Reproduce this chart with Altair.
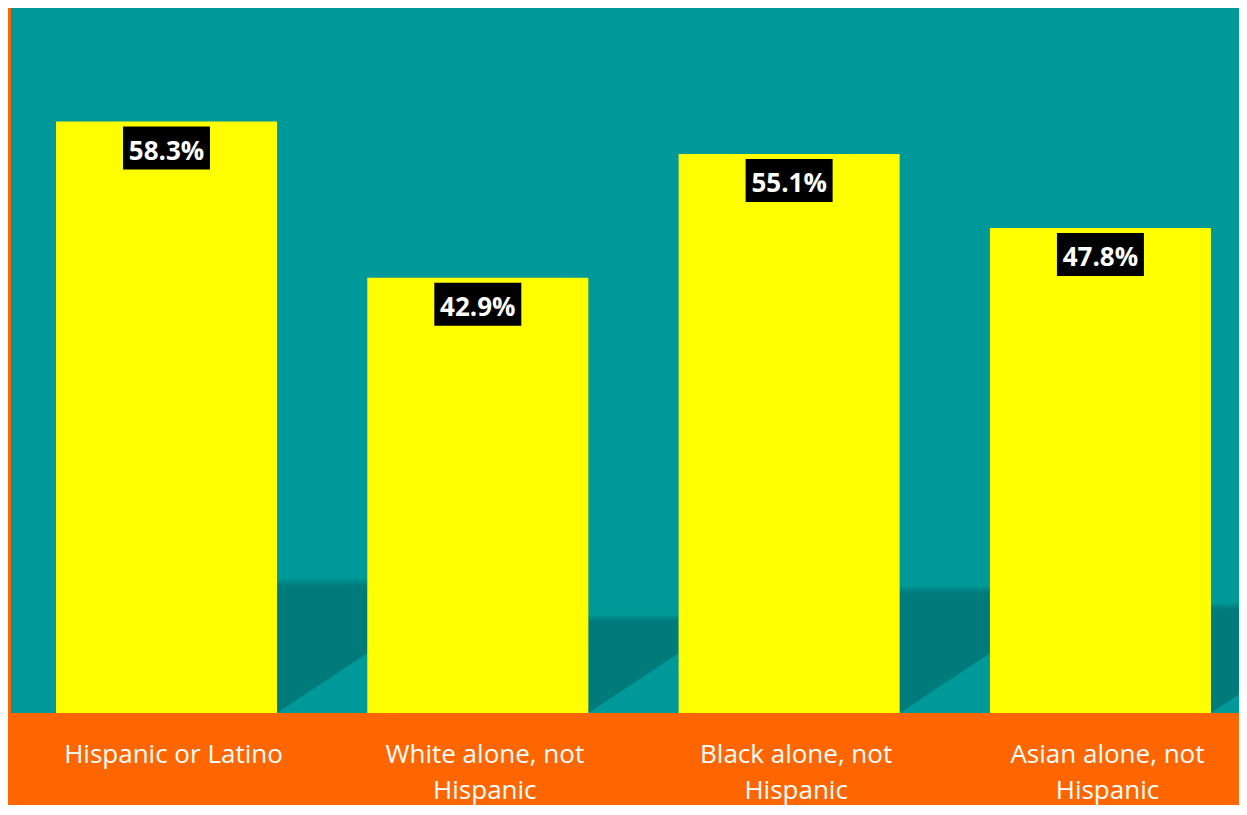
import altair as alt
import pandas as pd

# ---- data ----
categories = [
    "Hispanic or Latino",
    "White alone, not Hispanic",
    "Black alone, not Hispanic",
    "Asian alone, not Hispanic",
]
values = [58.3, 42.9, 55.1, 47.8]
labels = ["58.3%", "42.9%", "55.1%", "47.8%"]

# decorative darker "floor" band visible in the gaps (data units)
shadow_top = [13.3, 9.7, 12.6, 10.9]
shadow_rise = 5.9

# ---- layout ----
W, H = 1228, 705
Y_MAX = 69.5
PI, PO, ALIGN = 0.29, 0.1173, 0.616

TEAL = "#009999"
DARK = "#007B7B"
ORANGE = "#FF6600"
YELLOW = "#FFFF00"
FONT = "Open Sans"

df = pd.DataFrame({"cat": categories, "v": values, "label": labels})

# gap geometry derived from the band scale parameters
n = len(categories)
step = W / (n - PI + 2 * PO)
start = (W - step * (n - PI)) * ALIGN
bw = step * (1 - PI)
rows = []
for i in range(n):
    L = start + step * i + bw
    R_full = start + step * (i + 1)
    R = min(R_full, W)
    frac = (R - L) / (R_full - L)
    rows.append({"g": i, "x": L, "y": shadow_top[i], "y2": 0.0})
    rows.append({"g": i, "x": R, "y": shadow_top[i], "y2": shadow_rise * frac})
sdf = pd.DataFrame(rows)

yscale = alt.Scale(domain=[0, Y_MAX], nice=False, zero=True)
xscale = alt.Scale(type="band", paddingInner=PI, paddingOuter=PO, align=ALIGN)

shadow = alt.Chart(sdf).mark_area(
    color=alt.Gradient(
        gradient="linear", x1=0, y1=0, x2=0, y2=1,
        stops=[
            alt.GradientStop(offset=0, color=TEAL),
            alt.GradientStop(offset=0.06, color=DARK),
            alt.GradientStop(offset=1, color=DARK),
        ],
    ),
    interpolate="linear",
).encode(
    x=alt.X("x:Q", scale=alt.Scale(domain=[0, W], nice=False, zero=False), axis=None),
    y=alt.Y("y:Q", scale=yscale, axis=None),
    y2="y2:Q",
    detail="g:N",
)

x_axis = alt.X(
    "cat:N",
    sort=categories,
    scale=xscale,
    axis=alt.Axis(
        title=None,
        labelAngle=0,
        labelColor="white",
        labelFont=FONT,
        labelFontSize=26,
        labelPadding=28,
        labelLineHeight=36,
        labelLimit=500,
        labelOffset=7,
        ticks=False,
        domain=False,
        grid=False,
        labelExpr="split(replace(datum.label, ', not ', ', not|'), '|')",
    ),
)
x_plain = alt.X("cat:N", sort=categories, scale=xscale, axis=None)

bars = alt.Chart(df).mark_bar(color=YELLOW).encode(
    x=x_axis,
    y=alt.Y("v:Q", scale=yscale, axis=None),
)

boxes = alt.Chart(df).mark_bar(color="black", width=87, yOffset=5, y2Offset=48).encode(
    x=x_plain,
    y=alt.Y("v:Q", scale=yscale, axis=None),
    y2="v:Q",
)

text = alt.Chart(df).mark_text(
    color="white", font=FONT, fontWeight="bold", fontSize=26,
    baseline="alphabetic", align="center", dy=38,
).encode(
    x=x_plain,
    y=alt.Y("v:Q", scale=yscale, axis=None),
    text="label:N",
)

chart = (
    alt.layer(shadow, bars, boxes, text)
    .resolve_scale(x="independent")
    .properties(
        width=W,
        height=H,
        padding={"left": 3, "top": 0, "right": 0, "bottom": 92},
        autosize=alt.AutoSizeParams(type="none"),
        background=ORANGE,
    )
    .configure_view(fill=TEAL, strokeWidth=0)
)

chart.save("out.html", embed_options={"renderer": "svg", "actions": False})
